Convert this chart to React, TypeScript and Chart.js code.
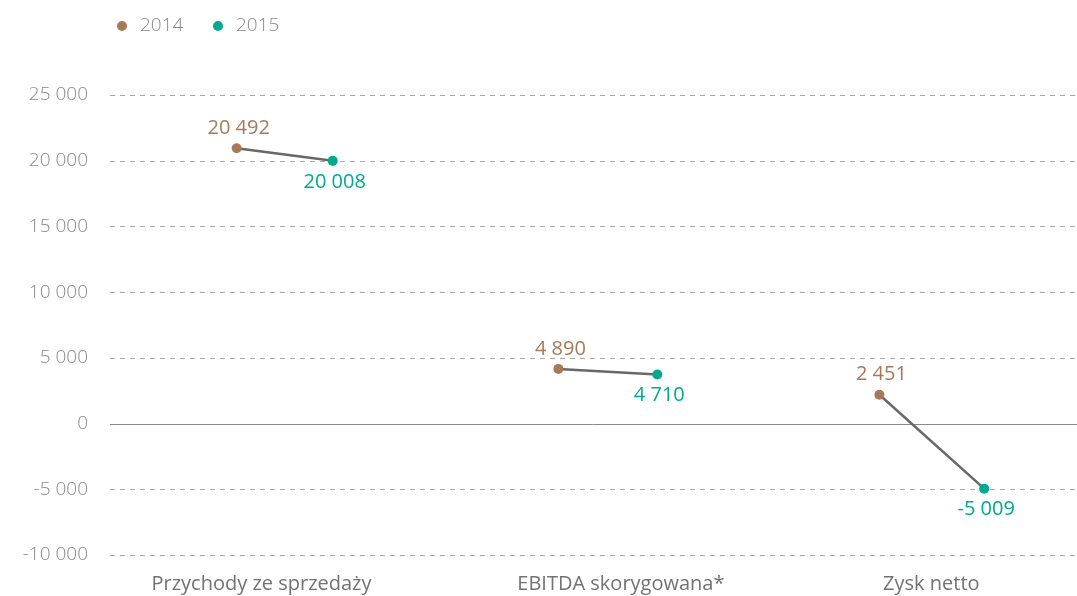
import React, { useEffect, useRef } from "react";
import { Chart, registerables } from "chart.js";

Chart.register(...registerables);

// Categories and their tick positions on the x scale (category units)
const categories = ["Przychody ze sprzedaży", "EBITDA skorygowana*", "Zysk netto"];
const categoryTickX = [0.47, 1.585, 2.548];

// Series (plotted positions) and value labels
const seriesNames = ["2014", "2015"];
const x2014 = [0.393, 1.391, 2.387];
const y2014 = [20950, 4160, 2190];
const labels2014 = ["20 492", "4 890", "2 451"];
const x2015 = [0.691, 1.698, 2.712];
const y2015 = [19990, 3730, -4950];
const labels2015 = ["20 008", "4 710", "-5 009"];

// Y axis ticks
const yMin = -10000;
const yMax = 25000;
const yStep = 5000;

const COLOR_2014 = "#a67a58";
const COLOR_2015 = "#00aa8e";
const FONT = "'Open Sans', 'DejaVu Sans', sans-serif";

function fmt(v: number): string {
  const s = Math.abs(v).toString().replace(/\B(?=(\d{3})+(?!\d))/g, " ");
  return (v < 0 ? "-" : "") + s;
}

const gridPlugin = {
  id: "customGrid",
  beforeDatasetsDraw(chart: any) {
    const { ctx, chartArea, scales } = chart;
    const y = scales.y;
    ctx.save();
    y.ticks.forEach((t: any) => {
      const py = Math.round(y.getPixelForValue(t.value)) + 0.5;
      ctx.beginPath();
      if (t.value === 0) {
        ctx.setLineDash([]);
        ctx.strokeStyle = "#8a8a8a";
        ctx.lineWidth = 1;
      } else {
        ctx.setLineDash([5, 5]);
        ctx.strokeStyle = "#a8a8a8";
        ctx.lineWidth = 1;
      }
      ctx.moveTo(chartArea.left, py);
      ctx.lineTo(chartArea.right, py);
      ctx.stroke();
    });
    ctx.restore();
  },
};

const labelPlugin = {
  id: "valueLabels",
  afterDatasetsDraw(chart: any) {
    const { ctx } = chart;
    ctx.save();
    ctx.font = `400 20px ${FONT}`;
    ctx.textAlign = "center";
    ctx.textBaseline = "middle";
    chart.data.datasets.forEach((ds: any, di: number) => {
      if (!ds.valueLabels) return;
      const meta = chart.getDatasetMeta(di);
      meta.data.forEach((el: any, i: number) => {
        ctx.fillStyle = ds.labelColor;
        ctx.fillText(ds.valueLabels[i], el.x + 2, el.y + ds.labelOffset);
      });
    });
    ctx.restore();
  },
};

const legendPlugin = {
  id: "customLegend",
  afterDraw(chart: any) {
    const { ctx } = chart;
    const items = [
      { text: seriesNames[0], color: COLOR_2014, x: 122 },
      { text: seriesNames[1], color: COLOR_2015, x: 218 },
    ];
    ctx.save();
    ctx.font = `300 19px ${FONT}`;
    ctx.textBaseline = "middle";
    ctx.textAlign = "left";
    items.forEach((it) => {
      ctx.beginPath();
      ctx.fillStyle = it.color;
      ctx.arc(it.x, 26, 5, 0, Math.PI * 2);
      ctx.fill();
      ctx.fillStyle = "#8a8a8a";
      ctx.fillText(it.text, it.x + 18, 26);
    });
    ctx.restore();
  },
};

export default function App() {
  const ref = useRef<HTMLCanvasElement | null>(null);

  useEffect(() => {
    document.body.style.margin = "0";
    document.body.style.overflow = "hidden";
    if (!ref.current) return;

    const connectors = categories.map((c, i) => ({
      type: "line" as const,
      label: c,
      data: [
        { x: x2014[i], y: y2014[i] },
        { x: x2015[i], y: y2015[i] },
      ],
      borderColor: "#686868",
      borderWidth: 2.5,
      pointRadius: 0,
      pointHoverRadius: 0,
      showLine: true,
      fill: false,
      order: 2,
    }));

    const chart = new Chart(ref.current, {
      type: "scatter",
      data: {
        datasets: [
          {
            label: seriesNames[0],
            data: x2014.map((x, i) => ({ x, y: y2014[i] })),
            backgroundColor: COLOR_2014,
            borderColor: COLOR_2014,
            pointRadius: 5,
            borderWidth: 0,
            order: 1,
            valueLabels: labels2014,
            labelColor: COLOR_2014,
            labelOffset: -20,
          } as any,
          {
            label: seriesNames[1],
            data: x2015.map((x, i) => ({ x, y: y2015[i] })),
            backgroundColor: COLOR_2015,
            borderColor: COLOR_2015,
            pointRadius: 5,
            borderWidth: 0,
            order: 1,
            valueLabels: labels2015,
            labelColor: COLOR_2015,
            labelOffset: 21,
          } as any,
          ...connectors,
        ],
      },
      options: {
        animation: false,
        responsive: false,
        layout: { autoPadding: false, padding: { top: 95, left: 0, right: 0, bottom: 0 } },
        plugins: {
          legend: { display: false },
          tooltip: { enabled: false },
        },
        scales: {
          x: {
            type: "linear",
            min: 0,
            max: 3,
            grid: { display: false, drawTicks: false },
            border: { display: false },
            afterBuildTicks: (scale: any) => {
              scale.ticks = categoryTickX.map((v) => ({ value: v }));
            },
            afterFit: (scale: any) => {
              scale.height = 41;
            },
            ticks: {
              padding: 17,
              maxRotation: 0,
              autoSkip: false,
              color: "#727272",
              font: { family: FONT, size: 20, weight: "normal" as any },
              callback: (_v: any, i: number) => categories[i],
            },
          },
          y: {
            min: yMin,
            max: yMax,
            grid: { display: false, drawTicks: false },
            border: { display: false },
            afterFit: (scale: any) => {
              scale.width = 110;
            },
            ticks: {
              stepSize: yStep,
              padding: 22,
              color: "#8a8a8a",
              font: { family: FONT, size: 19, weight: 300 as any },
              callback: (v: any) => fmt(Number(v)),
            },
          },
        },
      },
      plugins: [gridPlugin, labelPlugin, legendPlugin],
    } as any);

    return () => chart.destroy();
  }, []);

  return (
    <div style={{ width: 1077, height: 596 }}>
      <canvas ref={ref} width={1077} height={596} style={{ display: "block" }} />
    </div>
  );
}
